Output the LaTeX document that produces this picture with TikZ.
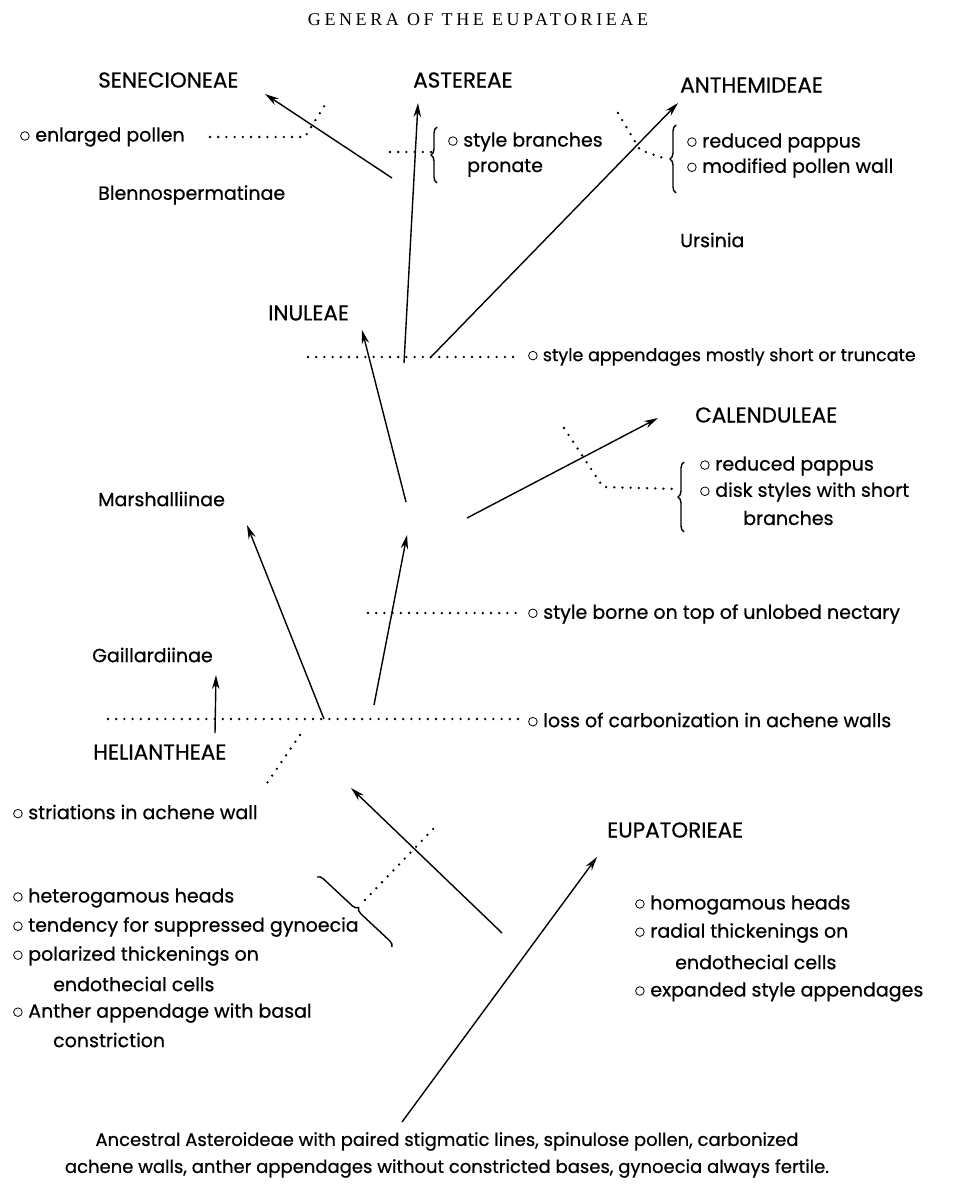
\documentclass[tikz,border=0pt]{standalone}
\usepackage{fontspec}
\usetikzlibrary{arrows.meta,decorations.pathreplacing}
\newfontfamily\popf[FakeBold=0.6]{Poppins}
\newfontfamily\titf[LetterSpace=20]{Liberation Serif}
\newcommand{\bodyf}{\popf\fontsize{19}{29}\selectfont}
\newcommand{\labf}{\popf\fontsize{21.5}{24}\selectfont}
\newcommand{\bu}{\tikz[baseline=0pt]\draw[line width=0.8pt] (0pt,5.5pt) circle[radius=4.3pt];\hspace{0.3em}}
\tikzset{
  lab/.style={font=\labf, anchor=west, inner sep=0pt},
  txt/.style={font=\bodyf, anchor=west, inner sep=0pt},
  arr/.style={line width=1.4pt, -{Stealth[length=14pt,width=7.5pt]}},
  dots/.style={line width=2.6pt, line cap=round, dash pattern=on 0pt off 8.2pt},
  brc/.style={decorate, decoration={brace, amplitude=6pt}, line width=1.4pt},
}
\begin{document}
\begin{tikzpicture}[x=1pt,y=-1pt]
\useasboundingbox (0,0) rectangle (956,1191);
% title
\node[font=\titf\fontsize{18}{21}\selectfont, inner sep=0pt] (title) at (478,20) {GENERA OF THE EUPATORIEAE};
% labels
\node[lab] (sen) at (98,80) {SENECIONEAE};
\node[lab] (ast) at (413,80) {ASTEREAE};
\node[lab] (ant) at (680,85) {ANTHEMIDEAE};
\node[txt] (ble) at (98,195) {Blennospermatinae};
\node[txt] (urs) at (680,240) {Ursinia};
\node[lab] (inu) at (268,313) {INULEAE};
\node[lab] (cal) at (695,415) {CALENDULEAE};
\node[txt] (mar) at (98,499) {Marshalliinae};
\node[txt] (gai) at (92,655) {Gaillardiinae};
\node[lab] (hel) at (93,752) {HELIANTHEAE};
\node[lab] (eup) at (607,830) {EUPATORIEAE};
% character texts
\node[txt] (t1) at (20,137) {\bu enlarged pollen};
\node[txt] (t2) at (448,142) {\bu style branches};
\node[txt] (t2b) at (467,168) {pronate};
\node[txt] (t3) at (687,143) {\bu reduced pappus};
\node[txt] (t3b) at (687,168) {\bu modified pollen wall};
\node[txt, font=\popf\fontsize{17.5}{20}\selectfont] (t4) at (528,357) {\bu style appendages mostly short or truncate};
\node[txt] (t5) at (700,466) {\bu reduced pappus};
\node[txt] (t5b) at (700,492) {\bu disk styles with short};
\node[txt] (t5c) at (743,518) {branches};
\node[txt] (t6) at (528,614) {\bu style borne on top of unlobed nectary};
\node[txt] (t7) at (528,720) {\bu loss of carbonization in achene walls};
\node[txt] (t8) at (13,812) {\bu striations in achene wall};
\node[txt] (h1) at (13,898) {\bu heterogamous heads};
\node[txt] (h2) at (13,927) {\bu tendency for suppressed gynoecia};
\node[txt] (h3) at (13,956) {\bu polarized thickenings on};
\node[txt] (h4) at (53,984) {endothecial cells};
\node[txt] (h5) at (13,1013) {\bu Anther appendage with basal};
\node[txt] (h6) at (53,1040) {constriction};
\node[txt] (e1) at (635,905) {\bu homogamous heads};
\node[txt] (e2) at (635,933) {\bu radial thickenings on};
\node[txt] (e3) at (675,962) {endothecial cells};
\node[txt] (e4) at (635,992) {\bu expanded style appendages};
\node[font=\popf\fontsize{18}{27}\selectfont, inner sep=0pt, align=center] (anc) at (447,1155)
  {Ancestral Asteroideae with paired stigmatic lines, spinulose pollen, carbonized\\
   achene walls, anther appendages without constricted bases, gynoecia always fertile.};
% arrow coordinates
\coordinate (senT) at (392,178); \coordinate (senH) at (265,94);
\coordinate (astT) at (404,363); \coordinate (astH) at (418,103);
\coordinate (antT) at (430,358); \coordinate (antH) at (678,103);
\coordinate (inuT) at (406,502); \coordinate (inuH) at (362,330);
\coordinate (calT) at (467,518); \coordinate (calH) at (658,418);
\coordinate (midT) at (374,705); \coordinate (midH) at (407,535);
\coordinate (marT) at (324,719); \coordinate (marH) at (247,525);
\coordinate (gaiT) at (215,733); \coordinate (gaiH) at (216,675);
\coordinate (helT) at (502,933); \coordinate (helH) at (351,788);
\coordinate (eupT) at (402,1122); \coordinate (eupH) at (597,857);
\foreach \a in {sen,ast,ant,inu,cal,mid,mar,gai,hel,eup}
  \draw[arr] (\a T) -- (\a H);
% dotted character lines
\coordinate (d1a) at (210,137); \coordinate (d1b) at (305,137); \coordinate (d1c) at (328,100);
\draw[dots] (d1a) -- (d1b) -- (d1c);
\coordinate (d2a) at (390,152); \coordinate (d2b) at (431,152);
\draw[dots] (d2a) -- (d2b);
\coordinate (d3a) at (618,113); \coordinate (d3b) at (640,150); \coordinate (d3c) at (669,160);
\draw[dots] (d3a) -- (d3b) -- (d3c);
\coordinate (d4a) at (308,357); \coordinate (d4b) at (521,357);
\draw[dots] (d4a) -- (d4b);
\coordinate (d5a) at (564,428); \coordinate (d5b) at (603,487); \coordinate (d5c) at (676,489);
\draw[dots] (d5a) -- (d5b) -- (d5c);
\coordinate (d6a) at (368,613); \coordinate (d6b) at (521,613);
\draw[dots] (d6a) -- (d6b);
\coordinate (d7a) at (108,719); \coordinate (d7b) at (521,719);
\draw[dots] (d7a) -- (d7b);
\coordinate (d8a) at (300,735); \coordinate (d8b) at (265,786);
\draw[dots] (d8a) -- (d8b);
\coordinate (d9a) at (365,900); \coordinate (d9b) at (435,827);
\draw[dots] (d9a) -- (d9b);
% braces
\coordinate (b1a) at (437,183); \coordinate (b1b) at (437,127);
\draw[brc] (b1a) -- (b1b);
\coordinate (b2a) at (676,193); \coordinate (b2b) at (676,125);
\draw[brc] (b2a) -- (b2b);
\coordinate (b3a) at (684,532); \coordinate (b3b) at (684,462);
\draw[brc] (b3a) -- (b3b);
\coordinate (b4a) at (317,877); \coordinate (b4b) at (392,947);
\draw[brc] (b4a) -- (b4b);
\end{tikzpicture}
\end{document}
